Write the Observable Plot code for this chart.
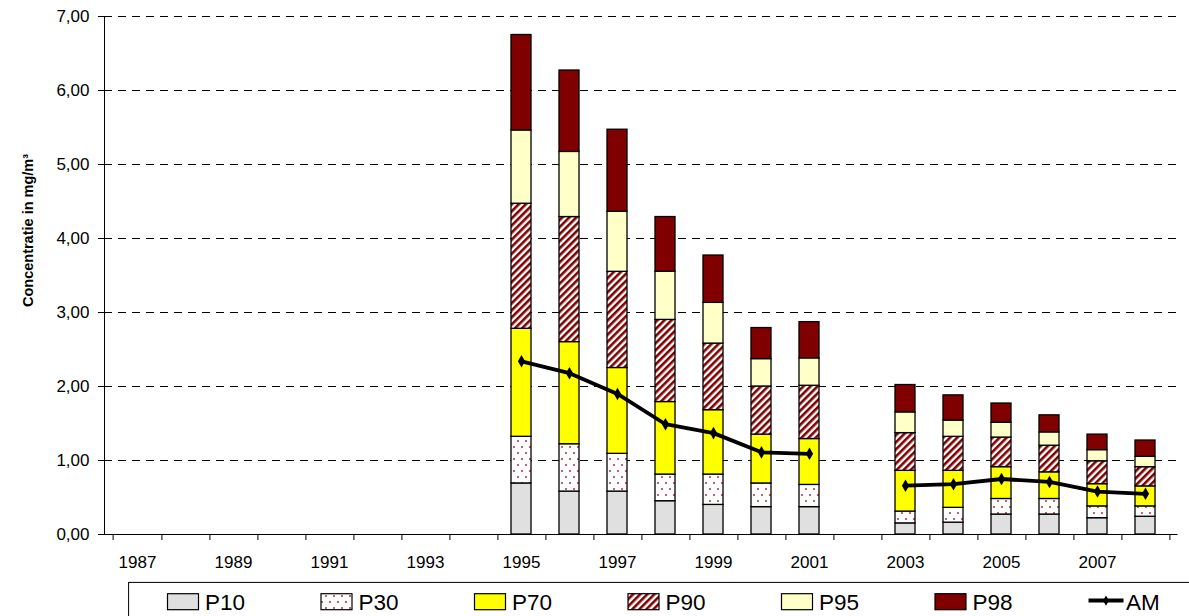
<!DOCTYPE html>
<html><head><meta charset="utf-8">
<script src="https://cdn.jsdelivr.net/npm/d3@7"></script>
<script src="https://cdn.jsdelivr.net/npm/@observablehq/plot@0.6"></script>
<style>
body{margin:0;background:#fff;font-family:"Liberation Sans",Arial,sans-serif;}
#wrap{position:relative;width:1189px;height:616px;overflow:hidden;background:#fff;}
#chart{position:absolute;left:0;top:0;}
#legend{position:absolute;left:0;top:575px;}
</style></head><body>
<svg width="0" height="0" style="position:absolute">
<defs>
<pattern id="pat30" width="8" height="12" patternUnits="userSpaceOnUse">
<rect width="8" height="12" fill="#fff"/>
<circle cx="2" cy="3" r="1" fill="#b03030"/>
<circle cx="6" cy="9" r="1" fill="#b03030"/>
</pattern>
<pattern id="pat90" width="5" height="5" patternUnits="userSpaceOnUse" patternTransform="rotate(45)">
<rect width="5" height="5" fill="#fff"/>
<rect width="2.6" height="5" fill="#800000"/>
</pattern>
</defs></svg>
<div id="wrap"><div id="chart"></div><svg id="legend" width="1189" height="41"></svg></div>
<script>
// ---- data ----
const years = d3.range(1987, 2009);
const measureYears = [1995,1996,1997,1998,1999,2000,2001,2003,2004,2005,2006,2007,2008];
const p10 = [0.69,0.58,0.58,0.45,0.40,0.37,0.37,0.15,0.16,0.27,0.27,0.22,0.24];
const p30 = [1.32,1.22,1.09,0.81,0.81,0.69,0.67,0.31,0.36,0.48,0.48,0.38,0.38];
const p70 = [2.78,2.60,2.25,1.79,1.68,1.35,1.29,0.86,0.86,0.91,0.84,0.68,0.65];
const p90 = [4.47,4.29,3.55,2.90,2.58,2.00,2.01,1.37,1.32,1.31,1.20,0.99,0.91];
const p95 = [5.46,5.17,4.36,3.55,3.13,2.37,2.38,1.65,1.54,1.51,1.38,1.14,1.05];
const p98 = [6.75,6.27,5.47,4.29,3.77,2.79,2.87,2.02,1.88,1.77,1.61,1.35,1.27];
const am  = [2.34,2.18,1.90,1.49,1.37,1.11,1.09,0.66,0.68,0.75,0.71,0.58,0.55];
const seriesNames = ["P10","P30","P70","P90","P95","P98"];
const yTicks = [0,1,2,3,4,5,6,7];
const yLabel = "Concentratie in mg/m³";

const seriesValues = {P10:p10, P30:p30, P70:p70, P90:p90, P95:p95, P98:p98};
const fills = {P10:"#e0e0e0", P30:"url(#pat30)", P70:"#ffff00", P90:"url(#pat90)", P95:"#ffffc8", P98:"#800000"};

const rows = [];
measureYears.forEach((yr, i) => {
  let lo = 0;
  seriesNames.forEach(s => { const hi = seriesValues[s][i]; rows.push({year: yr, series: s, lo, hi}); lo = hi; });
});
const amRows = d3.range(1995, 2009).map(yr => {
  const i = measureYears.indexOf(yr);
  return {year: yr, am: i < 0 ? NaN : am[i]};
});

const W = 1189, H = 582, ML = 104, MR = 11.4, MT = 16, MB = 48;
const step = (W - ML - MR) / years.length;
const fmt = v => d3.format(".2f")(v).replace(".", ",");

const chart = Plot.plot({
  width: W, height: H,
  marginLeft: ML, marginRight: MR, marginTop: MT, marginBottom: MB,
  style: {fontFamily: "Liberation Sans, Arial, sans-serif", color: "#000", background: "#fff"},
  x: {type: "band", domain: years, paddingInner: 0.59, paddingOuter: 0.295},
  y: {domain: [0, 7]},
  marks: [
    Plot.gridY(yTicks.filter(d => d > 0), {stroke: "#000", strokeOpacity: 1, strokeWidth: 1, strokeDasharray: "8,6"}),
    ...seriesNames.map(s => Plot.rectY(rows.filter(r => r.series === s), {
      x: "year", y1: "lo", y2: "hi", fill: fills[s], stroke: "#000", strokeWidth: 1.3
    })),
    Plot.line(amRows, {x: "year", y: "am", stroke: "#000", strokeWidth: 3.8, strokeLinejoin: "round"}),
    Plot.dot(amRows.filter(d => !isNaN(d.am)), {x: "year", y: "am", symbol: "diamond", r: 3.8, fill: "#000"}),
    Plot.axisY({ticks: yTicks, tickSize: 6, tickPadding: 9, tickFormat: fmt, fontSize: 17, label: null}),
    Plot.axisX({tickSize: 0, tickPadding: 21, tickFormat: y => (y % 2 ? String(y) : ""), fontSize: 17, label: null}),
    Plot.axisX({tickSize: 6, tickFormat: () => "", dx: step / 2, label: null}),
    Plot.axisX({ticks: [years[0]], tickSize: 6, tickFormat: () => "", dx: -step / 2, label: null}),
    Plot.ruleY([0], {stroke: "#000", strokeWidth: 1}),
    Plot.frame({anchor: "left", stroke: "#000"}),
    Plot.text([yLabel], {frameAnchor: "left", textAnchor: "middle", rotate: -90, dx: -76, dy: -45, fontWeight: "bold", fontSize: 14.5, fill: "#000"})
  ]
});
document.getElementById("chart").appendChild(chart);

// ---- legend ----
const lg = d3.select("#legend");
lg.append("rect").attr("x", 128.6).attr("y", 7.4).attr("width", 1200).attr("height", 80)
  .attr("fill", "none").attr("stroke", "#000").attr("stroke-width", 1);
const legendItems = [...seriesNames, "AM"];
legendItems.forEach((name, i) => {
  const x0 = 167.5 + i * 153.5;
  if (name === "AM") {
    lg.append("line").attr("x1", x0).attr("x2", x0 + 35).attr("y1", 25.6).attr("y2", 25.6)
      .attr("stroke", "#000").attr("stroke-width", 4);
    lg.append("path").attr("d", d3.symbol(d3.symbolDiamond, 30)()).attr("transform", `translate(${x0 + 17.5},25.6)`).attr("fill", "#000");
  } else {
    lg.append("rect").attr("x", x0).attr("y", 18.7).attr("width", 31).attr("height", 16)
      .attr("fill", fills[name]).attr("stroke", "#000").attr("stroke-width", 1.2);
  }
  lg.append("text").attr("x", x0 + 37.5).attr("y", 35).attr("font-size", 22.5)
    .attr("font-family", "Liberation Sans, Arial, sans-serif").attr("fill", "#000").text(name);
});
</script>
</body></html>
